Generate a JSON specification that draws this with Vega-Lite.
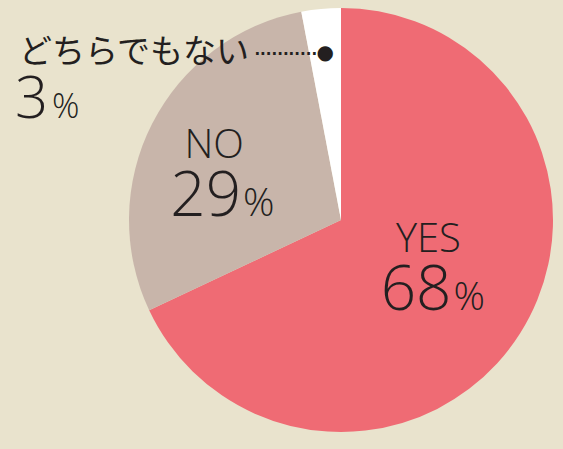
{
  "$schema": "https://vega.github.io/schema/vega-lite/v6.json",
  "width": 424,
  "height": 424,
  "autosize": {"type": "none"},
  "padding": {"left": 129, "top": 8, "right": 10, "bottom": 17},
  "background": "#e9e3cd",
  "view": {"stroke": null},
  "data": {
    "values": [
      {"category": "YES", "value": 68, "idx": 1},
      {"category": "NO", "value": 29, "idx": 2},
      {"category": "どちらでもない", "value": 3, "idx": 3}
    ]
  },
  "encoding": {
    "theta": {"field": "value", "type": "quantitative", "stack": true},
    "order": {"field": "idx", "type": "quantitative"}
  },
  "layer": [
    {
      "mark": {"type": "arc", "outerRadius": 212},
      "encoding": {
        "color": {
          "field": "category", "type": "nominal", "legend": null,
          "scale": {"domain": ["YES", "NO", "どちらでもない"], "range": ["#ef6b74", "#c8b5aa", "#ffffff"]}
        }
      }
    },
    {
      "mark": {"type": "text", "radius": 100, "dx": 3, "dy": -22, "align": "center", "baseline": "alphabetic", "fontSize": 40, "font": "Open Sans", "fontWeight": 300, "color": "#231f20"},
      "encoding": {"text": {"condition": {"test": "datum.category === 'YES'", "field": "category"}, "value": ""}}
    },
    {
      "mark": {"type": "text", "radius": 100, "dx": 26, "dy": 36, "align": "right", "baseline": "alphabetic", "fontSize": 62, "font": "Open Sans", "fontWeight": 300, "color": "#231f20"},
      "encoding": {"text": {"condition": {"test": "datum.category === 'YES'", "field": "value", "type": "quantitative"}, "value": ""}}
    },
    {
      "mark": {"type": "text", "radius": 100, "dx": 28, "dy": 36, "align": "left", "baseline": "alphabetic", "fontSize": 39, "font": "Open Sans", "fontWeight": 300, "color": "#231f20"},
      "encoding": {"text": {"condition": {"test": "datum.category === 'YES'", "value": "%"}, "value": ""}}
    },
    {
      "mark": {"type": "text", "radius": 120, "dx": -20, "dy": -8, "align": "center", "baseline": "alphabetic", "fontSize": 40, "font": "Open Sans", "fontWeight": 300, "color": "#231f20"},
      "encoding": {"text": {"condition": {"test": "datum.category === 'NO'", "field": "category"}, "value": ""}}
    },
    {
      "mark": {"type": "text", "radius": 120, "dx": 7, "dy": 50, "align": "right", "baseline": "alphabetic", "fontSize": 62, "font": "Open Sans", "fontWeight": 300, "color": "#231f20"},
      "encoding": {"text": {"condition": {"test": "datum.category === 'NO'", "field": "value", "type": "quantitative"}, "value": ""}}
    },
    {
      "mark": {"type": "text", "radius": 120, "dx": 9, "dy": 50, "align": "left", "baseline": "alphabetic", "fontSize": 39, "font": "Open Sans", "fontWeight": 300, "color": "#231f20"},
      "encoding": {"text": {"condition": {"test": "datum.category === 'NO'", "value": "%"}, "value": ""}}
    },
    {
      "mark": {"type": "text", "radius": 169, "dx": 0, "dy": 1, "align": "center", "baseline": "middle", "fontSize": 20, "font": "DejaVu Sans", "color": "#231f20"},
      "encoding": {"text": {"condition": {"test": "datum.category === 'どちらでもない'", "value": "●"}, "value": ""}}
    },
    {
      "mark": {"type": "text", "radius": 169, "dx": -8, "dy": -2, "align": "right", "baseline": "middle", "fontSize": 15, "font": "DejaVu Sans", "fontWeight": "bold", "color": "#231f20"},
      "encoding": {"text": {"condition": {"test": "datum.category === 'どちらでもない'", "value": "..........."}, "value": ""}}
    },
    {
      "mark": {"type": "text", "radius": 169, "dx": -76, "dy": 1, "align": "right", "baseline": "middle", "fontSize": 33, "font": "Noto Sans CJK JP", "color": "#231f20"},
      "encoding": {"text": {"condition": {"test": "datum.category === 'どちらでもない'", "field": "category"}, "value": ""}}
    },
    {
      "mark": {"type": "text", "radius": 169, "dx": -277, "dy": 66, "align": "right", "baseline": "alphabetic", "fontSize": 58, "font": "Open Sans", "fontWeight": 300, "color": "#231f20"},
      "encoding": {"text": {"condition": {"test": "datum.category === 'どちらでもない'", "field": "value", "type": "quantitative"}, "value": ""}}
    },
    {
      "mark": {"type": "text", "radius": 169, "dx": -273, "dy": 66, "align": "left", "baseline": "alphabetic", "fontSize": 34, "font": "Open Sans", "fontWeight": 300, "color": "#231f20"},
      "encoding": {"text": {"condition": {"test": "datum.category === 'どちらでもない'", "value": "%"}, "value": ""}}
    }
  ]
}
